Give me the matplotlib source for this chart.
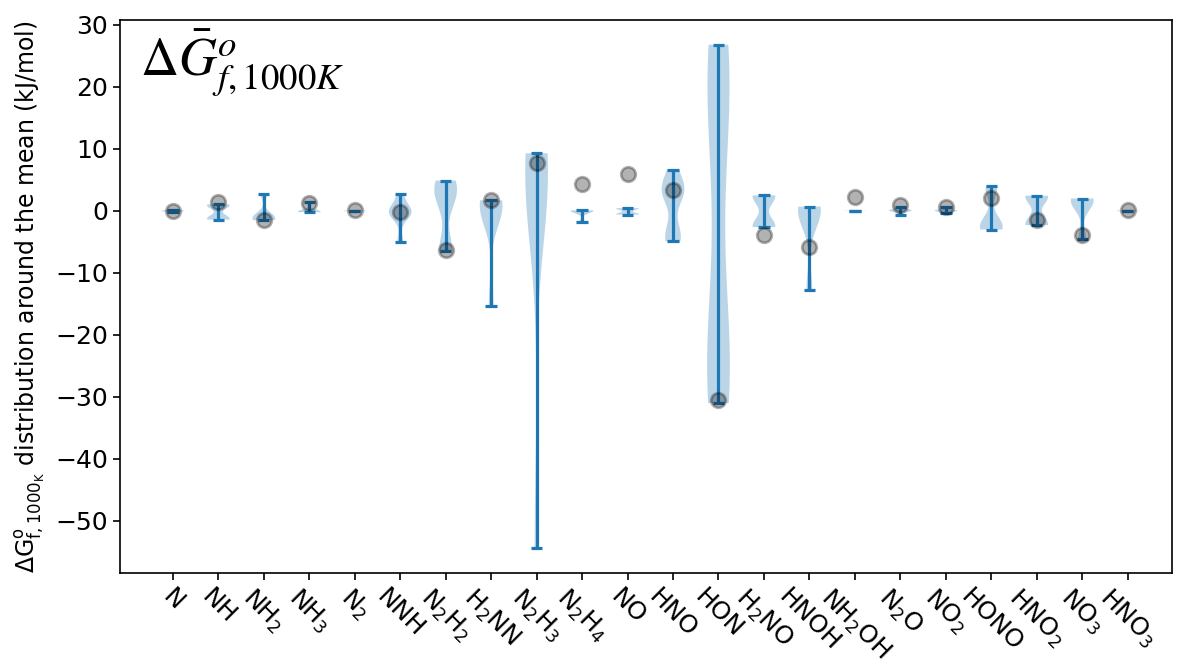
import numpy as np
import matplotlib
matplotlib.use("Agg")
from matplotlib import pyplot as plt

# species on the x axis
species = ["N", "NH", "NH$_2$", "NH$_3$", "N$_2$", "NNH", "N$_2$H$_2$", "H$_2$NN",
           "N$_2$H$_3$", "N$_2$H$_4$", "NO", "HNO", "HON", "H$_2$NO", "HNOH",
           "NH$_2$OH", "N$_2$O", "NO$_2$", "HONO", "HNO$_2$", "NO$_3$", "HNO$_3$"]

# deviations from the mean of each species (kJ/mol)
d_N = [0.1, 0.05, 0.0, -0.05, -0.1]
d_NH = [1.05, 0.9, 0.8, -1.1, -1.25, -1.4]
d_NH2 = [2.65, -0.8, -1.1, -1.3, -1.5]
d_NH3 = [1.4, -0.05, -0.1, -0.15, -0.2]
d_N2 = [0.05, 0.0, -0.05]
d_NNH = [2.77, 0.3, -0.2, -0.2, -0.6, -5.0]
d_N2H2 = [4.9, 4.2, 3.0, 1.5, -6.3, -6.5]
d_H2NN = [1.7, 1.6, 1.2, 0.5, -0.5, -15.3]
d_N2H3 = [9.3, 8.8, 7.8, 6.0, 4.0, 2.0, -54.4]
d_N2H4 = [0.1, 0.05, 0.0, -0.05, -1.85]
d_NO = [0.45, 0.35, -0.5, -0.6]
d_HNO = [6.6, 4.0, 3.5, 3.0, 2.5, -3.5, -4.2, -4.9]
d_HON = [26.8, 25.0, 22.0, 16.0, 6.0, -12.0, -22.0, -27.0, -29.0, -31.0]
d_H2NO = [2.5, 2.3, -2.4, -2.6]
d_HNOH = [0.7, 0.5, 0.0, -0.8, -12.7]
d_NH2OH = [0.02, 0.0, -0.02]
d_N2O = [0.55, 0.1, 0.05, 0.0, -0.7]
d_NO2 = [0.6, 0.1, 0.05, 0.0, -0.4]
d_HONO = [4.0, 3.5, -2.0, -2.5, -2.8, -3.0]
d_HNO2 = [2.45, 2.2, -2.0, -2.3]
d_NO3 = [2.0, 1.8, 1.2, -4.6]
d_HNO3 = [0.05, 0.0, -0.05]

# reference values (gray dots), also relative to the mean
ref = [0.0, 1.4, -1.5, 1.2, 0.1, -0.2, -6.3, 1.7, 7.7, 4.4, 6.0, 3.4, -30.5,
       -3.9, -5.8, 2.2, 0.9, 0.6, 2.1, -1.4, -3.9, 0.2]

data = [d_N, d_NH, d_NH2, d_NH3, d_N2, d_NNH, d_N2H2, d_H2NN, d_N2H3, d_N2H4,
        d_NO, d_HNO, d_HON, d_H2NO, d_HNOH, d_NH2OH, d_N2O, d_NO2, d_HONO,
        d_HNO2, d_NO3, d_HNO3]

pos = np.arange(len(species))

fig = plt.figure(figsize=(11.87, 6.64), dpi=100)
ax = fig.add_axes([0.101, 0.137, 0.886, 0.833])

parts = ax.violinplot(data, positions=pos, widths=0.5, bw_method=0.5)
for b in parts["bodies"]:
    b.set_facecolor("#1f77b4")
    b.set_edgecolor("none")
    b.set_alpha(0.3)
for k in ["cbars", "cmins", "cmaxes"]:
    parts[k].set_color("#1f77b4")
    parts[k].set_linewidth(2.3)

ax.scatter(pos, ref, s=110, c="k", alpha=0.3, linewidths=2, zorder=3)

ax.set_xlim(-1.165, 21.965)
ax.set_ylim(-58.4, 30.8)
ax.set_xticks(pos)
ax.set_xticklabels(species, rotation=-45, fontsize=18)
ax.tick_params(axis="y", labelsize=18, width=1.2, length=5)
ax.tick_params(axis="x", width=1.2, length=5)
for s in ax.spines.values():
    s.set_linewidth(1.2)
ax.set_ylabel(r"$\Delta \mathrm{G}^{\mathrm{o}}_{\mathrm{f,1000_K}}$ distribution around the mean (kJ/mol)",
              fontsize=17, labelpad=6)
ax.text(0.019, 0.985, r"$\Delta\bar{G}^{o}_{f,1000K}$", transform=ax.transAxes,
        fontsize=38, va="top", ha="left", math_fontfamily="stix")

fig.savefig("out.png", dpi=100)
